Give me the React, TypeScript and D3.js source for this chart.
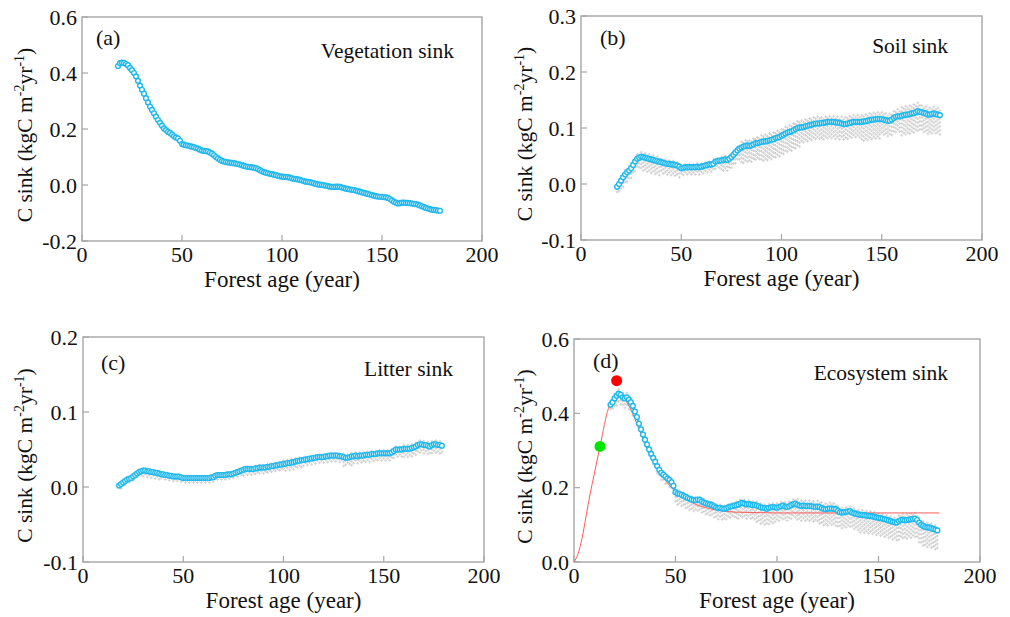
import React from "react";
import * as d3 from "d3";

const AGE_START = 18;
const xTicks = [0, 50, 100, 150, 200];

// Vegetation sink (kgC m-2 yr-1), ages 18..179
const vegSink = [
  0.425, 0.435, 0.437, 0.436, 0.432, 0.428, 0.418, 0.41, 0.4, 0.388,
  0.372, 0.355, 0.34, 0.326, 0.31, 0.295, 0.28, 0.268, 0.256, 0.244,
  0.232, 0.222, 0.212, 0.202, 0.196, 0.19, 0.186, 0.18, 0.174, 0.17,
  0.166, 0.158, 0.146, 0.144, 0.142, 0.141, 0.139, 0.137, 0.135, 0.132,
  0.13, 0.126, 0.123, 0.122, 0.121, 0.12, 0.116, 0.112, 0.106, 0.1,
  0.095, 0.09, 0.086, 0.084, 0.082, 0.081, 0.08, 0.079, 0.078, 0.076,
  0.075, 0.073, 0.071, 0.068, 0.066, 0.065, 0.064, 0.063, 0.062, 0.06,
  0.057, 0.053, 0.049, 0.046, 0.044, 0.042, 0.04, 0.039, 0.037, 0.035,
  0.033, 0.031, 0.03, 0.029, 0.029, 0.028, 0.026, 0.024, 0.022, 0.021,
  0.02, 0.018, 0.016, 0.014, 0.012, 0.011, 0.01, 0.008, 0.006, 0.004,
  0.002, 0.001, 0.0, -0.001, -0.002, -0.004, -0.006, -0.007, -0.007, -0.006,
  -0.006, -0.007, -0.009, -0.011, -0.013, -0.014, -0.016, -0.017, -0.018, -0.02,
  -0.022, -0.024, -0.026, -0.028, -0.03, -0.032, -0.034, -0.036, -0.038, -0.04,
  -0.041, -0.042, -0.042, -0.043, -0.044, -0.046, -0.05, -0.055, -0.06, -0.063,
  -0.066, -0.065, -0.063, -0.063, -0.064, -0.064, -0.065, -0.066, -0.067, -0.068,
  -0.07, -0.073, -0.076, -0.079, -0.082, -0.084, -0.086, -0.088, -0.089, -0.09,
  -0.091, -0.092,
];

// Soil sink, ages 18..179
const soilSink = [
  -0.005, 0.0, 0.006, 0.012, 0.017, 0.021, 0.024, 0.028, 0.034, 0.04,
  0.045, 0.047, 0.049, 0.048, 0.047, 0.046, 0.045, 0.044, 0.043, 0.042,
  0.041, 0.04, 0.039, 0.038, 0.037, 0.036, 0.036, 0.035, 0.035, 0.034,
  0.033, 0.031, 0.028, 0.029, 0.03, 0.03, 0.03, 0.03, 0.03, 0.03,
  0.031, 0.03, 0.031, 0.032, 0.033, 0.034, 0.035, 0.035, 0.036, 0.04,
  0.041, 0.042, 0.042, 0.043, 0.044, 0.043, 0.045, 0.048, 0.052, 0.056,
  0.06, 0.063, 0.065, 0.067, 0.068, 0.069, 0.068, 0.069, 0.071, 0.073,
  0.073, 0.074, 0.075, 0.076, 0.076, 0.077, 0.078, 0.079, 0.08, 0.082,
  0.083, 0.084, 0.086, 0.088, 0.09, 0.092, 0.093, 0.094, 0.096, 0.098,
  0.1, 0.101, 0.101, 0.102, 0.103, 0.104, 0.105, 0.106, 0.107, 0.108,
  0.108, 0.108, 0.109, 0.109, 0.11, 0.111, 0.111, 0.111, 0.111, 0.11,
  0.11, 0.109, 0.108, 0.107, 0.107, 0.108, 0.109, 0.11, 0.111, 0.111,
  0.111, 0.111, 0.111, 0.112, 0.112, 0.113, 0.114, 0.115, 0.115, 0.116,
  0.116, 0.116, 0.116, 0.115, 0.114, 0.113, 0.113, 0.115, 0.118, 0.12,
  0.121, 0.121, 0.122, 0.123, 0.124, 0.124, 0.125, 0.126, 0.127, 0.128,
  0.13, 0.129, 0.128, 0.127, 0.126, 0.124, 0.124, 0.125, 0.126, 0.125,
  0.124, 0.123,
];

// Litter sink, ages 18..179
const litterSink = [
  0.002, 0.004, 0.006, 0.008, 0.01, 0.011, 0.012, 0.014, 0.016, 0.018,
  0.02, 0.021, 0.022, 0.022, 0.021, 0.021, 0.02, 0.02, 0.019, 0.019,
  0.018, 0.017, 0.017, 0.016, 0.016, 0.015, 0.015, 0.014, 0.014, 0.014,
  0.014, 0.013, 0.012, 0.012, 0.012, 0.012, 0.012, 0.012, 0.012, 0.012,
  0.012, 0.012, 0.012, 0.012, 0.012, 0.012, 0.013, 0.013, 0.015, 0.016,
  0.016, 0.016, 0.016, 0.016, 0.017, 0.017, 0.017, 0.018, 0.019, 0.02,
  0.021, 0.022, 0.023, 0.024, 0.024, 0.024, 0.024, 0.024, 0.025, 0.025,
  0.026, 0.026, 0.026, 0.026, 0.027, 0.027, 0.028, 0.028, 0.029, 0.029,
  0.03, 0.03, 0.031, 0.031, 0.032, 0.032, 0.033, 0.033, 0.034, 0.035,
  0.035, 0.036, 0.036, 0.037, 0.037, 0.038, 0.038, 0.039, 0.039, 0.04,
  0.04, 0.04, 0.04, 0.041, 0.041, 0.042, 0.042, 0.042, 0.042, 0.042,
  0.041, 0.041, 0.04, 0.039, 0.039, 0.04, 0.041, 0.041, 0.042, 0.041,
  0.042, 0.042, 0.042, 0.043, 0.043, 0.043, 0.044, 0.044, 0.044, 0.045,
  0.045, 0.045, 0.045, 0.045, 0.045, 0.045, 0.046, 0.048, 0.05, 0.05,
  0.05, 0.05, 0.051, 0.051, 0.051, 0.051, 0.052, 0.053, 0.054, 0.056,
  0.057, 0.057, 0.056, 0.056, 0.055, 0.054, 0.056, 0.057, 0.057, 0.056,
  0.056, 0.055,
];

// Ecosystem sink, ages 18..179
const ecoSink = [
  0.423, 0.43, 0.44, 0.447, 0.453, 0.45, 0.443, 0.44, 0.443, 0.437,
  0.43, 0.42, 0.405, 0.39, 0.372, 0.357, 0.343, 0.329, 0.316, 0.303,
  0.291, 0.28, 0.27, 0.258, 0.248, 0.24, 0.235, 0.23, 0.225, 0.221,
  0.215, 0.205, 0.188, 0.184, 0.183, 0.181, 0.178, 0.175, 0.172, 0.17,
  0.168, 0.167, 0.166, 0.168, 0.167, 0.163, 0.16, 0.158, 0.156, 0.155,
  0.153, 0.15, 0.147, 0.145, 0.146, 0.144, 0.143, 0.145, 0.147, 0.149,
  0.15, 0.152, 0.153, 0.155, 0.158, 0.159, 0.157, 0.155, 0.156, 0.155,
  0.153, 0.154, 0.152, 0.15, 0.147, 0.146, 0.145, 0.143, 0.146, 0.147,
  0.148, 0.147, 0.146, 0.148, 0.15, 0.152, 0.149, 0.148, 0.15, 0.153,
  0.156, 0.157, 0.154, 0.152, 0.151, 0.152, 0.151, 0.15, 0.151, 0.15,
  0.149, 0.148, 0.149, 0.148, 0.145, 0.143, 0.142, 0.143, 0.144, 0.144,
  0.143, 0.142, 0.138, 0.134, 0.133, 0.134, 0.135, 0.136, 0.137, 0.133,
  0.131, 0.13, 0.128, 0.127, 0.127, 0.126, 0.125, 0.124, 0.124, 0.123,
  0.122, 0.12, 0.119, 0.118, 0.117, 0.115, 0.114, 0.112, 0.11, 0.108,
  0.107, 0.106, 0.11, 0.113, 0.114, 0.112, 0.113, 0.114, 0.115, 0.116,
  0.117, 0.113, 0.106, 0.1, 0.097, 0.094, 0.093, 0.093, 0.091, 0.089,
  0.087, 0.085,
];

// Spread of simulated samples (grey) below / above the mean, per decade bin (10-19, 20-29, ..., 170-179)
const soilSpreadDown = [0.015, 0.02, 0.025, 0.02, 0.015, 0.015, 0.02, 0.03, 0.035, 0.035, 0.03, 0.03, 0.03, 0.035, 0.03, 0.035, 0.035];
const soilSpreadUp = [0.005, 0.008, 0.008, 0.006, 0.005, 0.005, 0.006, 0.01, 0.012, 0.012, 0.012, 0.01, 0.012, 0.012, 0.012, 0.015, 0.012];
const litterSpreadDown = [0.006, 0.006, 0.008, 0.006, 0.006, 0.006, 0.006, 0.008, 0.01, 0.01, 0.008, 0.01, 0.012, 0.01, 0.01, 0.012, 0.012];
const litterSpreadUp = [0.002, 0.003, 0.003, 0.002, 0.002, 0.002, 0.002, 0.003, 0.003, 0.004, 0.003, 0.003, 0.004, 0.004, 0.004, 0.005, 0.005];
const ecoSpreadDown = [0.02, 0.03, 0.02, 0.02, 0.03, 0.035, 0.035, 0.04, 0.045, 0.04, 0.045, 0.045, 0.045, 0.05, 0.05, 0.05, 0.055];
const ecoSpreadUp = [0.01, 0.012, 0.01, 0.008, 0.008, 0.008, 0.008, 0.01, 0.01, 0.012, 0.014, 0.015, 0.012, 0.012, 0.012, 0.015, 0.012];

// Fitted ecosystem curve (red)
const fitAges = [0, 2, 4, 6, 8, 10, 12, 14, 16, 18, 20, 22, 24, 26, 28, 30, 33, 36, 40, 44, 48, 52, 56, 60, 65, 70, 75, 80, 90, 100, 120, 140, 160, 180];
const fitValues = [0, 0.022, 0.065, 0.125, 0.185, 0.237, 0.29, 0.343, 0.395, 0.428, 0.443, 0.448, 0.443, 0.43, 0.41, 0.385, 0.345, 0.305, 0.262, 0.228, 0.2, 0.18, 0.166, 0.155, 0.146, 0.14, 0.136, 0.134, 0.133, 0.132, 0.132, 0.132, 0.132, 0.132];
// Key points: maximum sink (red) and inflection (green)
const peakPoint = { age: 21, value: 0.488 };
const inflectionPoint = { age: 12.8, value: 0.311 };

type PanelCfg = {
  key: string;
  label: string;
  title: string;
  values: number[];
  down?: number[];
  up?: number[];
  yDomain: [number, number];
  yTicks: number[];
  box: { l: number; r: number; t: number; b: number };
  labelPos: [number, number];
  titlePos: [number, number];
  titleX: number;
  fit?: boolean;
};

const panels: PanelCfg[] = [
  {
    key: "a", label: "(a)", title: "Vegetation sink", values: vegSink,
    yDomain: [-0.2, 0.6], yTicks: [-0.2, 0, 0.2, 0.4, 0.6],
    box: { l: 82, r: 482, t: 17, b: 241 }, labelPos: [14, 28], titlePos: [28, 41], titleX: 32,
  },
  {
    key: "b", label: "(b)", title: "Soil sink", values: soilSink, down: soilSpreadDown, up: soilSpreadUp,
    yDomain: [-0.1, 0.3], yTicks: [-0.1, 0, 0.1, 0.2, 0.3],
    box: { l: 581, r: 982, t: 16, b: 240 }, labelPos: [19, 29], titlePos: [34, 37], titleX: 532,
  },
  {
    key: "c", label: "(c)", title: "Litter sink", values: litterSink, down: litterSpreadDown, up: litterSpreadUp,
    yDomain: [-0.1, 0.2], yTicks: [-0.1, 0, 0.1, 0.2],
    box: { l: 83, r: 484, t: 337, b: 562 }, labelPos: [18, 33], titlePos: [31, 39], titleX: 32,
  },
  {
    key: "d", label: "(d)", title: "Ecosystem sink", values: ecoSink, down: ecoSpreadDown, up: ecoSpreadUp,
    yDomain: [0, 0.6], yTicks: [0, 0.2, 0.4, 0.6],
    box: { l: 574, r: 980, t: 339, b: 562 }, labelPos: [19, 29], titlePos: [32, 41], titleX: 532, fit: true,
  },
];

const BLUE = "#1fb9ee";
const GREY = "#cdcdcd";
const AXIS = "#a6a6a6";
const FONT = "'Liberation Serif', 'Times New Roman', serif";

function Panel({ p }: { p: PanelCfg }) {
  const { l, r, t, b } = p.box;
  const x = d3.scaleLinear().domain([0, 200]).range([l, r]);
  const y = d3.scaleLinear().domain(p.yDomain).range([b, t]);
  const pts = p.values.map((v, i) => ({ age: AGE_START + i, v }));
  const line = d3.line<{ age: number; v: number }>().x((d) => x(d.age)).y((d) => y(d.v));

  const greyMarks: JSX.Element[] = [];
  if (p.down && p.up) {
    pts.forEach((d, i) => {
      const bin = Math.min(Math.floor(d.age / 10) - 1, p.down!.length - 1);
      const lo = y(d.v - p.down![bin]);
      const hi = y(d.v + p.up![bin]);
      const cx = x(d.age);
      const off = (i % 2) * 2;
      for (let yy = hi + off; yy <= lo; yy += 4) {
        greyMarks.push(
          <path key={`${i}-${yy}`} d={`M${cx - 1.4},${yy}h2.8M${cx},${yy - 1.4}v2.8`} stroke={GREY} strokeWidth={0.9} />
        );
      }
    });
  }

  let fitPath: string | null = null;
  if (p.fit) {
    const fl = d3.line<number>().x((_, i) => x(fitAges[i])).y((d) => y(d)).curve(d3.curveMonotoneX);
    fitPath = fl(fitValues);
  }

  const midY = (t + b) / 2 + 6;

  return (
    <g>
      {/* frame */}
      <rect x={l} y={t} width={r - l} height={b - t} fill="none" stroke={AXIS} strokeWidth={1.4} />
      {/* y ticks */}
      {p.yTicks.map((v) => (
        <g key={`y${v}`}>
          <line x1={l} x2={l + 6} y1={y(v)} y2={y(v)} stroke={AXIS} strokeWidth={1.2} />
          <text x={l - 5} y={y(v)} dy="0.35em" textAnchor="end" fontSize={22} fill="#111">
            {v.toFixed(1)}
          </text>
        </g>
      ))}
      {/* x ticks */}
      {xTicks.map((v) => (
        <g key={`x${v}`}>
          <line x1={x(v)} x2={x(v)} y1={b} y2={b - 6} stroke={AXIS} strokeWidth={1.2} />
          <text x={x(v)} y={b + 21} textAnchor="middle" fontSize={22} fill="#111">
            {v}
          </text>
        </g>
      ))}
      <text x={(l + r) / 2} y={b + 46} textAnchor="middle" fontSize={23} fill="#111">
        Forest age (year)
      </text>
      <text transform={`translate(${p.titleX},${midY}) rotate(-90)`} textAnchor="middle" fontSize={21.5} fill="#111">
        C sink (kgC m<tspan dy={-8} fontSize={14}>-2</tspan>
        <tspan dy={8}>yr</tspan>
        <tspan dy={-8} fontSize={14}>-1</tspan>
        <tspan dy={8}>)</tspan>
      </text>
      <text x={l + p.labelPos[0]} y={t + p.labelPos[1]} fontSize={22} fill="#111">
        {p.label}
      </text>
      <text x={r - p.titlePos[0]} y={t + p.titlePos[1]} textAnchor="end" fontSize={21.5} fill="#111">
        {p.title}
      </text>
      {/* grey samples */}
      <g>{greyMarks}</g>
      {/* fit */}
      {fitPath && <path d={fitPath} fill="none" stroke="#ff5a5a" strokeWidth={1} />}
      {/* blue mean */}
      <path d={line(pts) || ""} fill="none" stroke={BLUE} strokeWidth={1.6} />
      {pts.map((d) => (
        <circle key={d.age} cx={x(d.age)} cy={y(d.v)} r={2.4} fill="#fff" stroke={BLUE} strokeWidth={1.4} />
      ))}
      {p.fit && (
        <>
          <circle cx={x(peakPoint.age)} cy={y(peakPoint.value)} r={5.5} fill="#ff0000" />
          <circle cx={x(inflectionPoint.age)} cy={y(inflectionPoint.value)} r={5.5} fill="#00e600" />
        </>
      )}
    </g>
  );
}

export default function App() {
  return (
    <svg
      width={1010}
      height={617}
      style={{ position: "absolute", left: 0, top: 0, background: "#fff" }}
      fontFamily={FONT}
    >
      <rect width={1010} height={617} fill="#fff" />
      {panels.map((p) => (
        <Panel key={p.key} p={p} />
      ))}
    </svg>
  );
}
